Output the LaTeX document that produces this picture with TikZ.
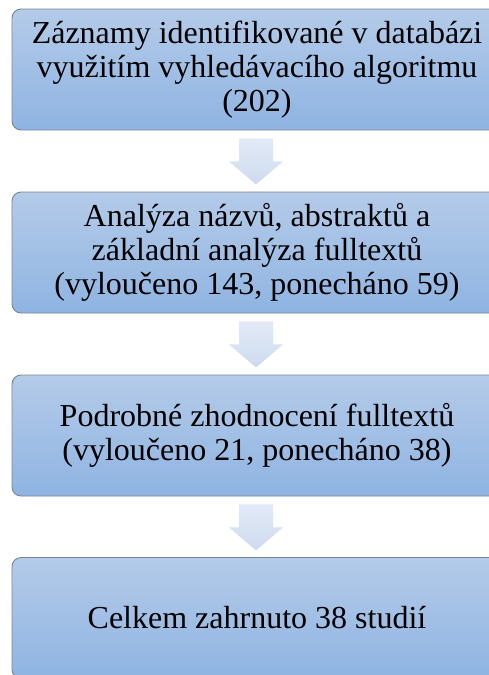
\documentclass[tikz,border=0pt]{standalone}
\usepackage{fontspec}
\setmainfont{Liberation Serif}
\newfontfamily\tnr{Liberation Serif}
\usetikzlibrary{calc}
\definecolor{boxtop}{HTML}{B4CBE9}
\definecolor{boxbot}{HTML}{8FB4E2}
\definecolor{boxline}{HTML}{7A8592}
\definecolor{arrtop}{HTML}{E2EAF6}
\definecolor{arrbot}{HTML}{CEDBEF}
\tikzset{
  stepbox/.style={draw=boxline, line width=0.9pt, rounded corners=9pt,
    top color=boxtop, bottom color=boxbot,
    minimum width=490pt, minimum height=121pt, inner sep=0pt,
    align=center, font=\tnr\fontsize{32}{34}\selectfont, text=black},
  flowarrow/.style={draw=none, top color=arrtop, bottom color=arrbot}
}
\newcommand{\blockarrow}[1]{%
  \path[flowarrow] ($(#1.south)+(-18,8)$) -- ($(#1.south)+(16,8)$)
    -- ($(#1.south)+(16,31)$) -- ($(#1.south)+(26,31)$)
    -- ($(#1.south)+(-1,54)$) -- ($(#1.south)+(-28,31)$)
    -- ($(#1.south)+(-18,31)$) -- cycle;}
\begin{document}
\begin{tikzpicture}[x=1pt,y=-1pt]
\useasboundingbox (0,0) rectangle (489,675);
\clip (0,0) rectangle (489,675);
\node[stepbox] (b1) at (257,69.5) {Záznamy identifikované v databázi\\využitím vyhledávacího algoritmu\\(202)};
\node[stepbox] (b2) at (257,252.5) {Analýza názvů, abstraktů a\\základní analýza fulltextů\\(vyloučeno 143, ponecháno 59)};
\node[stepbox] (b3) at (257,435.5) {Podrobné zhodnocení fulltextů\\(vyloučeno 21, ponecháno 38)};
\node[stepbox] (b4) at (257,618) {Celkem zahrnuto 38 studií};
\blockarrow{b1}
\blockarrow{b2}
\blockarrow{b3}
\end{tikzpicture}
\end{document}
